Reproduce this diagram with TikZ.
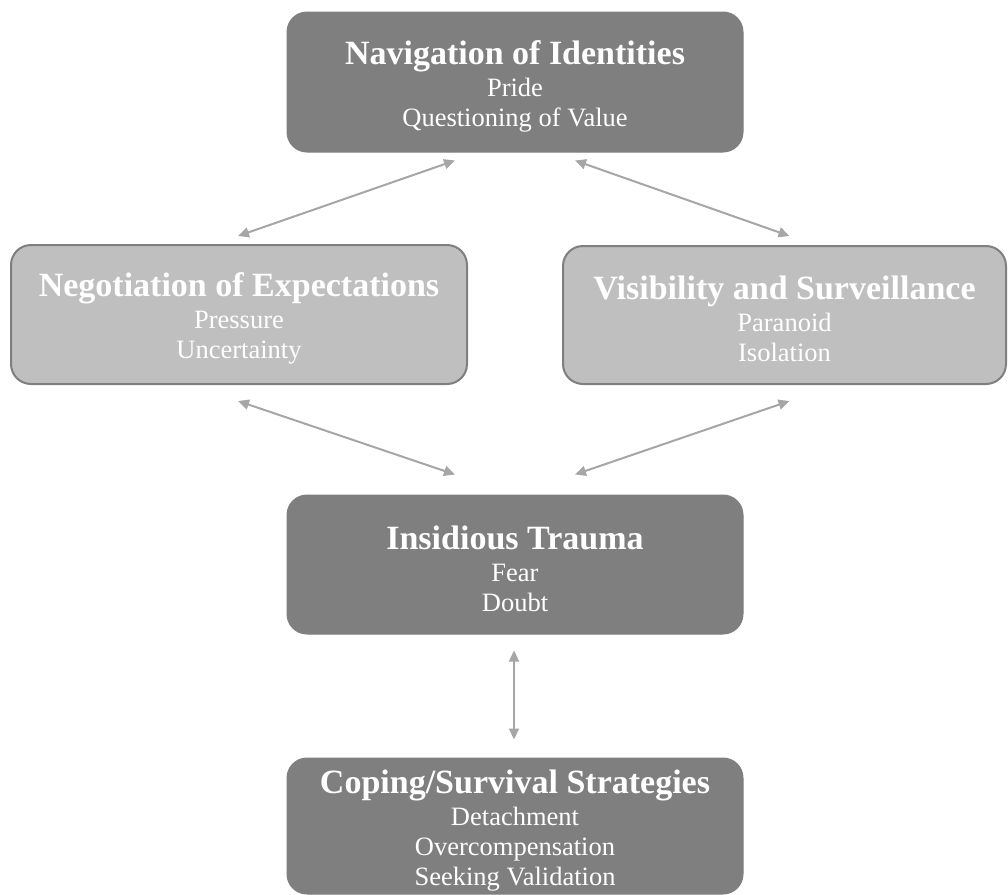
\documentclass[tikz,border=0pt]{standalone}
\usepackage{fontspec}
\setmainfont{Liberation Serif}
\usetikzlibrary{arrows.meta,calc}

\definecolor{darkbox}{HTML}{7F7F7F}
\definecolor{lightbox}{HTML}{BFBFBF}
\definecolor{linkgray}{HTML}{A6A6A6}

\newcommand{\boxtitle}[1]{{\fontsize{34}{36}\selectfont\bfseries\rule{0pt}{32pt}#1}\\[2pt]}

\begin{document}
\begin{tikzpicture}[
        x=1pt, y=-1pt,
        font=\fontsize{26.5}{30}\selectfont,
        themebox/.style={rectangle, rounded corners=20pt, align=center, text=white,
            minimum width=456pt, minimum height=139pt, inner sep=0pt},
        dark/.style={themebox, fill=darkbox, draw=darkbox, line width=1pt},
        light/.style={themebox, fill=lightbox, draw=darkbox, line width=2pt},
        link/.style={draw=linkgray, line width=2pt, {Triangle[length=11pt,width=10pt]}-{Triangle[length=11pt,width=10pt]}}
    ]
        \useasboundingbox (0,0) rectangle (1008,894);

        % boxes
        \node[dark] (nav) at (515,82) [minimum height=140pt]
            {\boxtitle{Navigation of Identities}Pride\\Questioning of Value};
        \node[light] (neg) at (239,314.5)
            {\boxtitle{Negotiation of Expectations}Pressure\\Uncertainty};
        \node[light] (vis) at (784.5,315) [minimum width=443pt, minimum height=138pt]
            {\boxtitle{Visibility and Surveillance}Paranoid\\Isolation};
        \node[dark] (trauma) at (515,564.5)
            {\boxtitle{Insidious Trauma}Fear\\Doubt};
        \node[dark] (coping) at (515,826) [minimum height=136pt]
            {\boxtitle{Coping/Survival Strategies}Detachment\\Overcompensation\\Seeking Validation};

        % connectors
        \draw[link] ($(nav.south)+(-60,8)$) -- ($(neg.north)+(-1,-8)$);
        \draw[link] ($(nav.south)+(60,8)$) -- ($(vis.north)+(5,-9)$);
        \draw[link] ($(neg.south)+(-1,16)$) -- ($(trauma.north)+(-60,-20)$);
        \draw[link] ($(vis.south)+(5,16)$) -- ($(trauma.north)+(60,-20)$);
        \draw[link] ($(trauma.south)+(-1,16)$) -- ($(coping.north)+(-1,-18)$);
    \end{tikzpicture}
\end{document}
